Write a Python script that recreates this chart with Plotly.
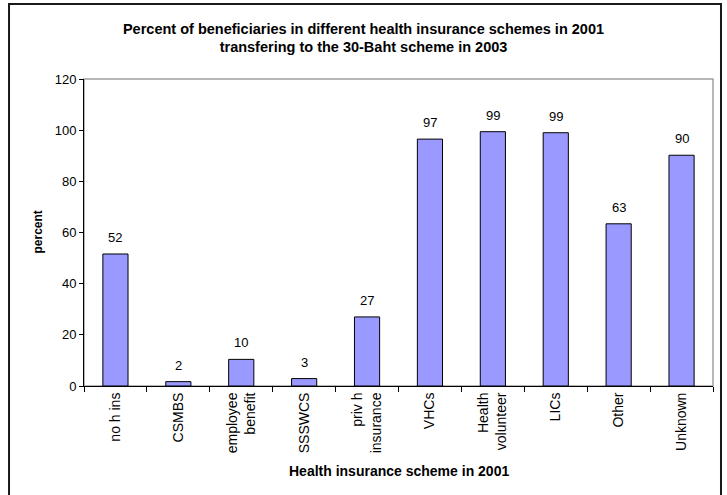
import plotly.graph_objects as go

categories = ["no h ins", "CSMBS", "employee<br>benefit", "SSSWCS", "priv h<br>insurance",
              "VHCs", "Health<br>volunteer", "LICs", "Other", "Unknown"]
values = [51.6, 1.7, 10.4, 2.9, 27.0, 96.5, 99.4, 99.0, 63.4, 90.2]
labels = ["52", "2", "10", "3", "27", "97", "99", "99", "63", "90"]
y_ticks = [0, 20, 40, 60, 80, 100, 120]

FONT = "Arial, 'Liberation Sans', sans-serif"

fig = go.Figure()
fig.add_trace(go.Bar(
    x=categories, y=values, width=0.4,
    marker=dict(color="#9999FF", line=dict(color="#000000", width=1)),
    hoverinfo="skip",
))

annotations = []
for c, v, t in zip(categories, values, labels):
    annotations.append(dict(x=c, y=v, text=t, showarrow=False, yanchor="bottom",
                            yshift=7, font=dict(family=FONT, size=13, color="#000")))

annotations.append(dict(xref="paper", yref="paper", x=-0.0747, y=0.5, text="<b>percent</b>",
                        textangle=-90, showarrow=False, xanchor="center", yanchor="middle",
                        font=dict(family=FONT, size=12, color="#000")))
annotations.append(dict(xref="paper", yref="paper", x=0.5, y=-0.277,
                        text="<b>Health insurance scheme in 2001</b>",
                        showarrow=False, xanchor="center", yanchor="middle",
                        font=dict(family=FONT, size=14, color="#000")))

shapes = [
    dict(type="rect", xref="paper", yref="paper", x0=0, y0=0, x1=1, y1=1,
         line=dict(color="#A0A0A0", width=1.5), layer="below"),
    dict(type="rect", xref="paper", yref="paper", x0=-0.1192, y0=-0.40, x1=1.0127, y1=1.2443,
         line=dict(color="#1a1a1a", width=2), layer="below"),
]

fig.update_layout(
    width=727, height=495,
    margin=dict(l=84, r=14, t=79, b=109),
    paper_bgcolor="white", plot_bgcolor="white",
    showlegend=False,
    title=dict(
        text="<b>Percent of beneficiaries in different health insurance schemes in 2001<br>"
             "transfering to the 30-Baht scheme in 2003</b>",
        xref="container", x=0.5, xanchor="center",
        yref="container", y=1 - 33.5 / 495, yanchor="middle",
        font=dict(family=FONT, size=14.5, color="#000"),
    ),
    xaxis=dict(
        type="category", tickangle=-90, tickson="boundaries",
        ticks="outside", ticklen=5, tickcolor="#000",
        showline=True, linecolor="#000", linewidth=1,
        showgrid=False, zeroline=False,
        tickfont=dict(family=FONT, size=14, color="#000"),
    ),
    yaxis=dict(
        range=[0, 120], tickvals=y_ticks, ticks="outside", ticklen=4, tickcolor="#000",
        showline=True, linecolor="#000", linewidth=1,
        showgrid=False, zeroline=False,
        tickfont=dict(family=FONT, size=13, color="#000"),
    ),
    annotations=annotations,
    shapes=shapes,
    bargap=0.6,
)

fig.write_html("out.html")
